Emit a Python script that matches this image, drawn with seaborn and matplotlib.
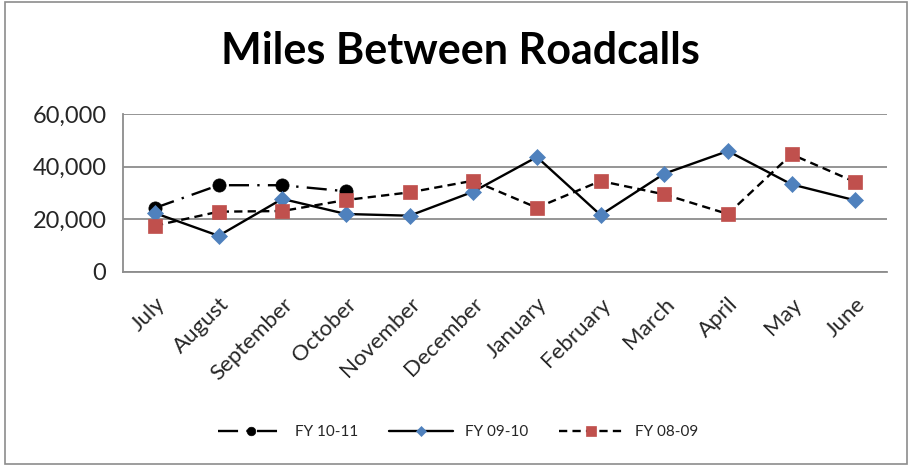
import numpy as np
import pandas as pd
import matplotlib
matplotlib.use("Agg")
import matplotlib.pyplot as plt
import seaborn as sns
from matplotlib.ticker import FuncFormatter
from matplotlib.patches import Rectangle

# chart values
months = ["July", "August", "September", "October", "November", "December",
          "January", "February", "March", "April", "May", "June"]
fy_10_11 = [24250, 32900, 32900, 30600]
fy_09_10 = [22300, 13650, 27700, 21950, 21300, 30440,
            43630, 21560, 37280, 45900, 33230, 27140]
fy_08_09 = [17500, 22830, 23080, 27270, 30180, 34620,
            24350, 34500, 29420, 21940, 44640, 34110]
y_ticks = [0, 20000, 40000, 60000]

sns.set_style("white")
plt.rcParams["font.family"] = ["Lato", "DejaVu Sans"]

rows = []
for name, vals in [("FY 10-11", fy_10_11), ("FY 09-10", fy_09_10), ("FY 08-09", fy_08_09)]:
    for i, v in enumerate(vals):
        rows.append({"series": name, "pos": i, "miles": v})
df = pd.DataFrame(rows)

styles = {
    "FY 10-11": dict(color="black", marker="o", markersize=9.5, ls=(0, (8.5, 3.5, 1, 3.5)),
                     mfc="black", mec="black"),
    "FY 09-10": dict(color="black", marker="D", markersize=8, ls="-",
                     mfc="#4F81BD", mec="#4F81BD"),
    "FY 08-09": dict(color="black", marker="s", markersize=10, ls=(0, (3.5, 2.2)),
                     mfc="#C0504D", mec="#C0504D"),
}

fig = plt.figure(figsize=(9.12, 4.68), dpi=100)
ax = fig.add_axes([0.135, 0.4195, 0.8376, 0.3369])

for name in ["FY 10-11", "FY 09-10", "FY 08-09"]:
    st = styles[name]
    sub = df[df["series"] == name]
    sns.lineplot(data=sub, x="pos", y="miles", ax=ax, label=name,
                 color=st["color"], linewidth=1.7, linestyle=st["ls"],
                 marker=st["marker"], markersize=st["markersize"],
                 markerfacecolor=st["mfc"], markeredgecolor=st["mec"],
                 markeredgewidth=0.5)

ax.set_xlim(-0.5, 11.5)
ax.set_ylim(0, 60000)
ax.set_yticks(y_ticks)
ax.yaxis.set_major_formatter(FuncFormatter(lambda v, p: f"{v:,.0f}"))
ax.set_xticks(range(len(months)))
ax.set_xticklabels(months, rotation=45, ha="right", rotation_mode="anchor", fontsize=16)
ax.tick_params(axis="y", labelsize=17, length=0, pad=12)
ax.tick_params(axis="x", length=0, pad=16)
ax.set_xlabel("")
ax.set_ylabel("")
ax.grid(axis="y", color="#8C8C8C", linewidth=1.3)
ax.set_axisbelow(True)
for s in ["top", "right"]:
    ax.spines[s].set_visible(False)
ax.spines["left"].set_color("#8C8C8C")
ax.spines["left"].set_linewidth(1.3)
ax.spines["bottom"].set_color("#8C8C8C")
ax.spines["bottom"].set_linewidth(1.3)

fig.text(0.505, 0.89, "Miles Between Roadcalls", ha="center", va="center",
         fontsize=31, fontweight="bold", color="black")

ax.legend(loc="center", bbox_to_anchor=(0.439, -1.016), ncol=3, frameon=False,
          fontsize=11, handlelength=4.2, handletextpad=0.8, columnspacing=2.0,
          markerscale=0.65)

fig.patches.append(Rectangle((0.006, 0.008), 0.988, 0.988, transform=fig.transFigure,
                             fill=False, edgecolor="#8C8C8C", linewidth=1.2))

fig.savefig("out.png", dpi=100, facecolor="white")
